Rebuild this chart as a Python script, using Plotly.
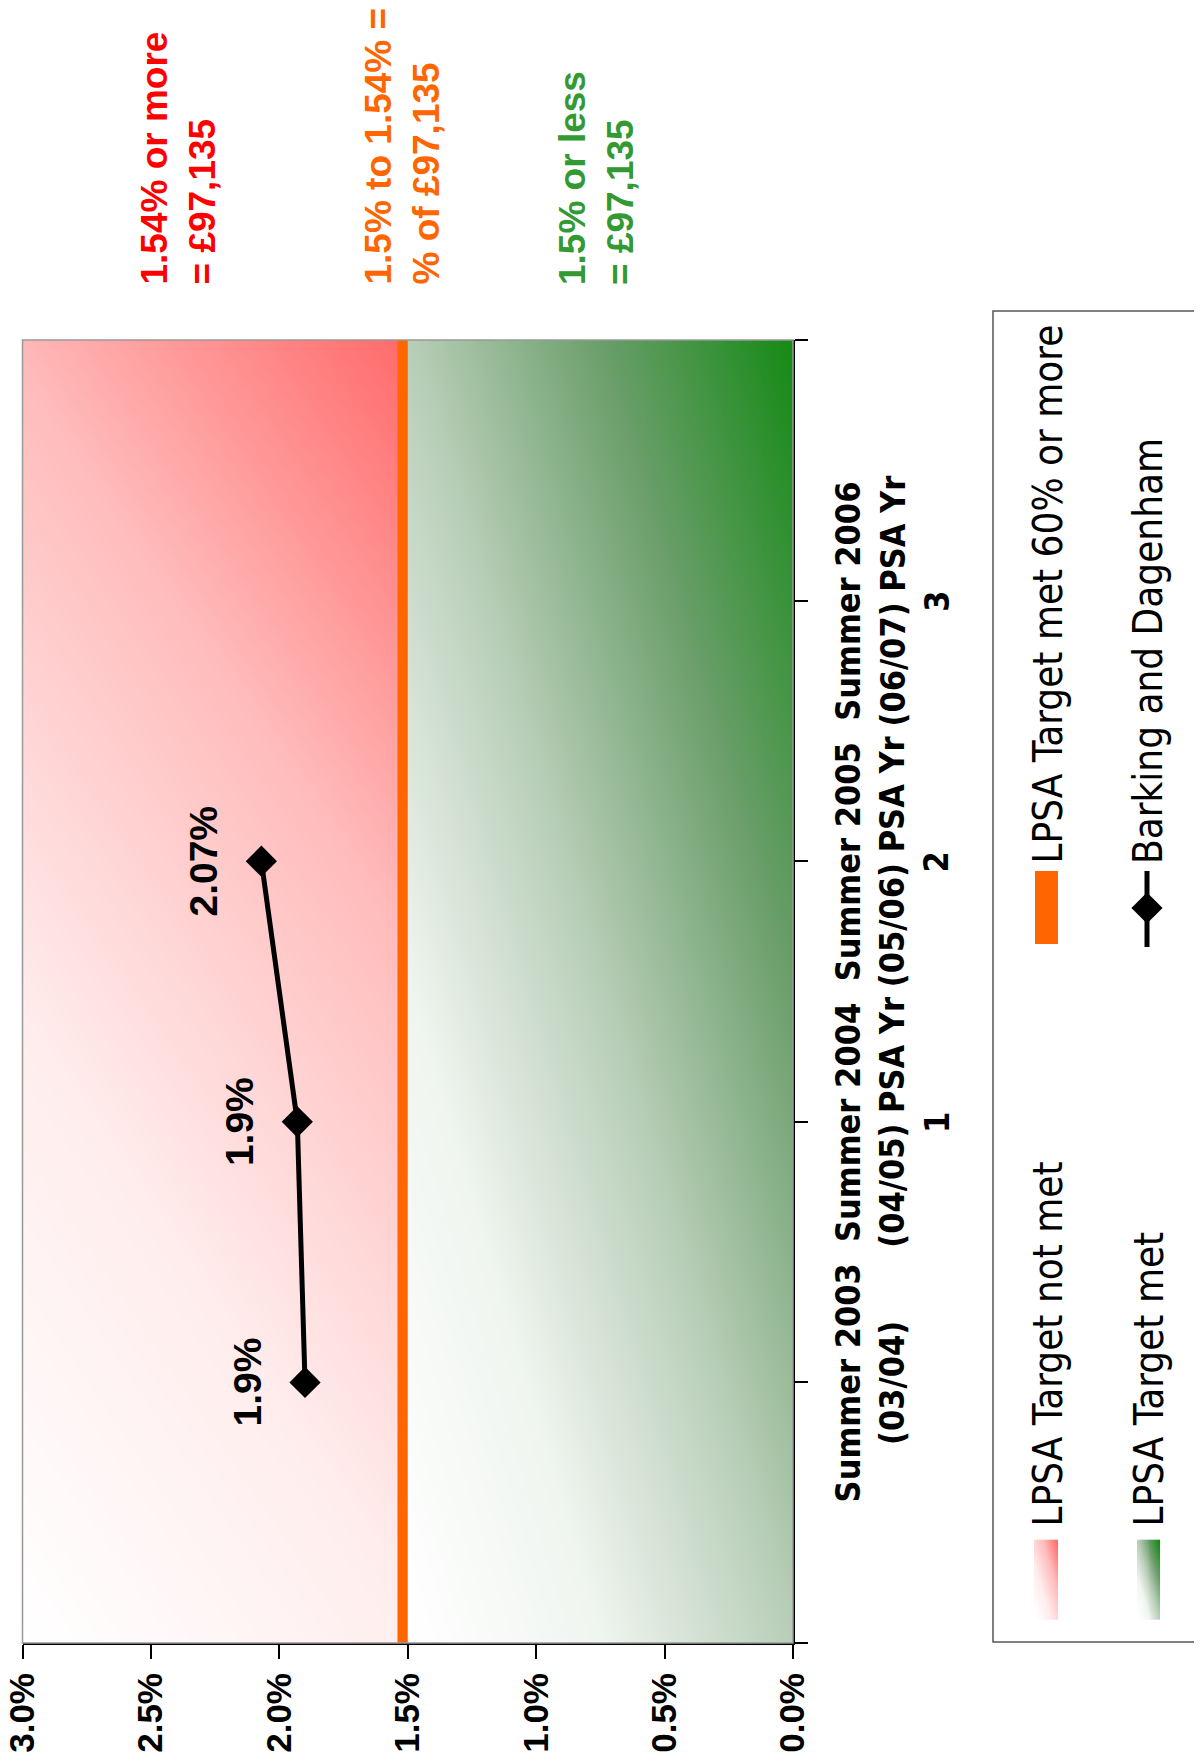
import numpy as np
import plotly.graph_objects as go

W, H = 1202, 1763
OFF = 8  # the page body margin moves the figure by this many pixels

# ---- data -------------------------------------------------------------
period_pos = [0, 1, 2, 3]
period_labels = [
    "Summer 2003<br>(03/04)",
    "Summer 2004<br>(04/05) PSA Yr<br>1",
    "Summer 2005<br>(05/06) PSA Yr<br>2",
    "Summer 2006<br>(06/07) PSA Yr<br>3",
]
barking_pos = [0, 1, 2]
barking_rate = [1.9, 1.93, 2.07]
barking_text = ["1.9%", "1.9%", "2.07%"]

rate_ticks = [0.0, 0.5, 1.0, 1.5, 2.0, 2.5, 3.0]
rate_tick_text = ["0.0%", "0.5%", "1.0%", "1.5%", "2.0%", "2.5%", "3.0%"]

target_met_max = 1.5      # green band 0 .. 1.5
target_60_max = 1.54      # orange band 1.5 .. 1.54
rate_max = 3.0            # red band 1.54 .. 3.0
period_range = [-1, 4]

band_notes = [
    ("1.54% or more<br>= £97,135", "#FF0000"),
    ("1.5% to 1.54% =<br>% of £97,135", "#FF6600"),
    ("1.5% or less<br>= £97,135", "#339933"),
]

RED_SCALE = [[0, "#FFFFFF"], [0.33, "#FFEDED"], [0.68, "#FFBCBC"], [1, "#FF6C6C"]]
GREEN_SCALE = [[0, "#FFFFFF"], [0.25, "#F0F5F0"], [0.5, "#B8CEB8"],
               [0.75, "#6A9E6A"], [1, "#158A15"]]
ORANGE = "#FF6600"

BOLD = "Liberation Sans, Arial, sans-serif"
NARROW = "Liberation Sans Narrow, Arial Narrow, DejaVu Sans Condensed, sans-serif"


def ramp(nx, ny, wu, wv):
    u, v = np.meshgrid(np.linspace(0, 1, nx), np.linspace(0, 1, ny))
    return wu * u + wv * v


def fx(px):
    return (px - OFF) / W


def fy(py):
    return 1 - (py - OFF) / H


# plot area in page pixels
PL, PR, PT, PB = 22.5, 793, 340, 1643

fig = go.Figure()

# background gradients
fig.add_trace(go.Heatmap(
    x=np.linspace(rate_max, target_60_max, 80), y=np.linspace(*period_range, 80),
    z=ramp(80, 80, 0.3, 0.7), colorscale=RED_SCALE, zmin=0, zmax=1,
    zsmooth="best", showscale=False, hoverinfo="skip"))
fig.add_trace(go.Heatmap(
    x=np.linspace(target_met_max, 0, 80), y=np.linspace(*period_range, 80),
    z=ramp(80, 80, 0.5, 0.5), colorscale=GREEN_SCALE, zmin=0, zmax=1,
    zsmooth="best", showscale=False, hoverinfo="skip"))

fig.add_vrect(x0=target_met_max, x1=target_60_max, fillcolor=ORANGE,
              line_width=0, layer="above")

# Barking and Dagenham
fig.add_trace(go.Scatter(
    x=barking_rate, y=barking_pos, mode="lines+markers",
    line=dict(color="black", width=5),
    marker=dict(symbol="diamond", size=24, color="black"),
    hoverinfo="skip"))
for v, p, t in zip(barking_rate, barking_pos, barking_text):
    fig.add_annotation(x=v, y=p, text=t, showarrow=False, textangle=-90,
                       xshift=-58, font=dict(family=BOLD, size=39, color="black", weight="bold"))

# period labels beside the category ticks
for p, t in zip(period_pos, period_labels):
    fig.add_annotation(xref="paper", yref="y", x=fx(826), y=p, xanchor="left",
                       yanchor="middle", align="center", text=t, showarrow=False,
                       textangle=-90,
                       font=dict(family=NARROW, size=34, color="black", weight="bold"))

# plot frame
fig.add_shape(type="rect", xref="x domain", yref="y domain", x0=0, x1=1, y0=0, y1=1,
              line=dict(color="#999999", width=1.5), layer="above")

# band notes at the top
for (txt, col), xc in zip(band_notes, [178, 402, 596]):
    fig.add_annotation(xref="paper", yref="paper", x=fx(xc), y=fy(287),
                       xanchor="center", yanchor="bottom", align="left",
                       text=txt, showarrow=False, textangle=-90,
                       font=dict(family=BOLD, size=37, color=col, weight="bold"))

# ---- legend (drawn on a full-figure subplot in page pixels) ----------
fig.add_shape(type="rect", xref="x3", yref="y3", x0=993, x1=1197, y0=311, y1=1642,
              line=dict(color="#555555", width=1.5))
for x0, x1, scale in [(1035, 1057, RED_SCALE), (1138, 1159, GREEN_SCALE)]:
    fig.add_trace(go.Heatmap(
        x=np.linspace(x0, x1, 12), y=np.linspace(1616, 1543, 12),
        z=ramp(12, 12, 0.5, 0.5), colorscale=scale, zmin=0, zmax=1,
        zsmooth="best", showscale=False, hoverinfo="skip", xaxis="x3", yaxis="y3"))
fig.add_shape(type="rect", xref="x3", yref="y3", x0=1035, x1=1058, y0=871, y1=944,
              fillcolor=ORANGE, line_width=0)
fig.add_shape(type="line", xref="x3", yref="y3", x0=1147, x1=1147, y0=871, y1=947,
              line=dict(color="black", width=5))
fig.add_trace(go.Scatter(x=[1147], y=[908], mode="markers", xaxis="x3", yaxis="y3",
                         marker=dict(symbol="diamond", size=24, color="black"),
                         hoverinfo="skip"))
legend_items = [
    ("LPSA Target not met", 1047, 1529),
    ("LPSA Target met 60% or more", 1047, 866),
    ("LPSA Target met", 1148, 1529),
    ("Barking and Dagenham", 1148, 866),
]
for txt, xc, yb in legend_items:
    fig.add_annotation(xref="x3", yref="y3", x=xc, y=yb, xanchor="center", yanchor="bottom",
                       text=txt, showarrow=False, textangle=-90,
                       font=dict(family=NARROW, size=40, color="black"))

fig.update_layout(
    width=W, height=H, margin=dict(l=0, r=0, t=0, b=0),
    paper_bgcolor="white", plot_bgcolor="rgba(0,0,0,0)", showlegend=False,
    xaxis=dict(domain=[fx(PL), fx(PR)], range=[rate_max, 0], tickvals=rate_ticks,
               ticktext=rate_tick_text, tickangle=-90, ticks="outside", ticklen=14,
               tickwidth=1.5, tickcolor="black", showline=True, linecolor="black",
               linewidth=2, showgrid=False, zeroline=False, anchor="y", automargin=False,
               ticklabeloverflow="allow",
               tickfont=dict(family=BOLD, size=35, color="black", weight="bold")),
    yaxis=dict(domain=[fy(PB), fy(PT)], range=period_range, side="right",
               tickvals=[-1] + period_pos + [4], showticklabels=False,
               ticks="outside", ticklen=13, tickwidth=1.5,
               tickcolor="black", showline=True, linecolor="black", linewidth=2,
               showgrid=False, zeroline=False, anchor="x", automargin=False),
    xaxis3=dict(domain=[0, 1], range=[OFF, W + OFF], visible=False, anchor="y3",
                automargin=False),
    yaxis3=dict(domain=[0, 1], range=[H + OFF, OFF], visible=False, anchor="x3",
                automargin=False),
)

fig.write_html("out.html")
